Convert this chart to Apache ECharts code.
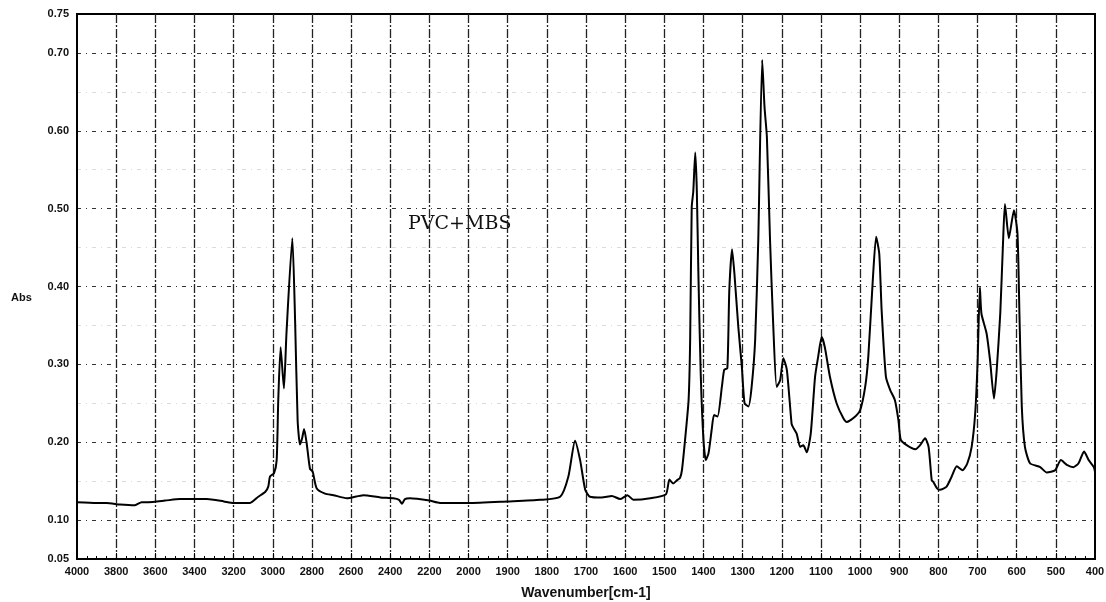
<!DOCTYPE html>
<html>
<head>
<meta charset="utf-8">
<script src="https://cdn.jsdelivr.net/npm/echarts@6/dist/echarts.min.js"></script>
<style>
  html, body { margin: 0; padding: 0; background: #fff; }
  #chart { width: 1106px; height: 602px; }
</style>
</head>
<body>
<div id="chart"></div>
<script>
// IR absorbance spectrum of PVC+MBS.
// The wavenumber scale is halved above 2000 cm-1 (200 per division there, 100 below).

const wavenumbers = [
  4000, 3900, 3849, 3780, 3704, 3670, 3636, 3550, 3474, 3337, 3250, 3201, 3116, 3074, 3039,
  3023, 3014, 2994, 2980, 2972, 2960, 2943, 2930, 2900, 2886, 2873, 2861, 2850, 2840, 2827,
  2810, 2796, 2776, 2733, 2690, 2622, 2537, 2450, 2384, 2355, 2340, 2325, 2299, 2200, 2146,
  2000, 1900, 1817, 1766, 1745, 1728, 1715, 1702, 1690, 1660, 1634, 1613, 1594, 1579, 1536,
  1496, 1487, 1477, 1468, 1460, 1455, 1447, 1438, 1434, 1430, 1426, 1421, 1417, 1413, 1407,
  1400, 1394, 1387, 1379, 1373, 1364, 1353, 1347, 1339, 1334, 1327, 1321, 1311, 1302, 1295,
  1285, 1277, 1268, 1260, 1250, 1244, 1238, 1230, 1222, 1213, 1204, 1196, 1187, 1175, 1172,
  1162, 1153, 1145, 1136, 1126, 1115, 1107, 1098, 1090, 1077, 1060, 1043, 1034, 1017, 1000,
  987, 979, 968, 959, 951, 945, 934, 923, 911, 902, 896, 880, 859, 847, 834,
  825, 817, 813, 804, 796, 779, 766, 753, 738, 726, 715, 706, 700, 694, 690,
  677, 668, 658, 651, 642, 635, 630, 620, 607, 598, 593, 587, 579, 566, 540,
  523, 502, 487, 472, 455, 442, 428, 416, 403, 400
];

const absorbance = [
  0.123, 0.122, 0.122, 0.120, 0.119, 0.123, 0.123, 0.125, 0.127, 0.127, 0.124, 0.122, 0.122, 0.130, 0.136,
  0.143, 0.156, 0.160, 0.177, 0.254, 0.322, 0.269, 0.340, 0.462, 0.357, 0.228, 0.197, 0.205, 0.217, 0.199,
  0.166, 0.162, 0.141, 0.134, 0.132, 0.128, 0.132, 0.129, 0.128, 0.126, 0.121, 0.127, 0.128, 0.125, 0.122,
  0.122, 0.124, 0.126, 0.130, 0.156, 0.202, 0.177, 0.139, 0.130, 0.129, 0.131, 0.127, 0.132, 0.126, 0.128,
  0.133, 0.152, 0.147, 0.151, 0.154, 0.164, 0.203, 0.254, 0.331, 0.502, 0.522, 0.572, 0.524, 0.417, 0.288,
  0.203, 0.177, 0.186, 0.216, 0.235, 0.233, 0.271, 0.293, 0.295, 0.395, 0.448, 0.417, 0.348, 0.297, 0.250,
  0.246, 0.271, 0.331, 0.460, 0.691, 0.630, 0.592, 0.460, 0.353, 0.271, 0.280, 0.308, 0.293, 0.224, 0.220,
  0.211, 0.194, 0.196, 0.187, 0.211, 0.284, 0.310, 0.335, 0.322, 0.284, 0.250, 0.231, 0.226, 0.231, 0.241,
  0.271, 0.310, 0.404, 0.464, 0.442, 0.370, 0.284, 0.267, 0.254, 0.228, 0.203, 0.196, 0.191, 0.196, 0.205,
  0.194, 0.151, 0.149, 0.141, 0.139, 0.143, 0.156, 0.169, 0.164, 0.173, 0.194, 0.237, 0.301, 0.399, 0.365,
  0.340, 0.305, 0.256, 0.293, 0.365, 0.455, 0.506, 0.462, 0.498, 0.468, 0.365, 0.246, 0.194, 0.173, 0.168,
  0.161, 0.164, 0.177, 0.171, 0.168, 0.173, 0.188, 0.177, 0.168, 0.162
];

// One label per axis division, left to right
const xTickLabels = [
  4000, 3800, 3600, 3400, 3200, 3000, 2800, 2600, 2400, 2200, 2000,
  1900, 1800, 1700, 1600, 1500, 1400, 1300, 1200, 1100, 1000, 900, 800, 700, 600, 500, 400
];

const yTickLabels = ['0.05', '0.10', '0.20', '0.30', '0.40', '0.50', '0.60', '0.70', '0.75'];

const titleText = 'PVC+MBS';

// Map a wavenumber to its division position on the horizontal axis
function toAxis(w) {
  return w >= 2000 ? (4000 - w) / 200 : 10 + (2000 - w) / 100;
}

const seriesData = wavenumbers.map((w, i) => [toAxis(w), absorbance[i]]);

const chart = echarts.init(document.getElementById('chart'), null, { renderer: 'canvas' });

const labelFont = {
  fontFamily: 'Liberation Sans, Arial, sans-serif',
  fontWeight: 'bold',
  fontSize: 11,
  color: '#111'
};

chart.setOption({
  animation: false,
  backgroundColor: '#fff',
  grid: {
    left: 77, right: 11, top: 14, bottom: 43,
    outerBoundsMode: 'none',
    containLabel: false,
    show: true,
    borderColor: '#000',
    borderWidth: 2,
    backgroundColor: 'transparent'
  },
  xAxis: {
    type: 'value',
    min: 0,
    max: xTickLabels.length - 1,
    interval: 1,
    name: 'Wavenumber[cm-1]',
    nameLocation: 'middle',
    nameGap: 27,
    nameTextStyle: {
      fontFamily: 'Liberation Sans, Arial, sans-serif',
      fontWeight: 'bold',
      fontSize: 14,
      color: '#111'
    },
    axisLine: { show: true, onZero: false, lineStyle: { color: '#000', width: 2 } },
    axisTick: { show: true, inside: true, length: 6, lineStyle: { color: '#000', width: 1 } },
    minorTick: { show: true, splitNumber: 4, length: 3, lineStyle: { color: '#000', width: 1 } },
    axisLabel: Object.assign({
      margin: 7,
      formatter: (v) => String(xTickLabels[Math.round(v)])
    }, labelFont),
    splitLine: {
      show: true,
      showMinLine: false,
      showMaxLine: false,
      lineStyle: { color: '#222', width: 1.3, type: [9, 2, 2, 2] }
    }
  },
  yAxis: {
    type: 'value',
    min: 0.05,
    max: 0.75,
    interval: 0.05,
    axisLine: { show: true, onZero: false, lineStyle: { color: '#000', width: 2 } },
    axisTick: { show: false },
    axisLabel: Object.assign({
      margin: 8,
      formatter: (v) => {
        const s = v.toFixed(2);
        return yTickLabels.indexOf(s) >= 0 ? s : '';
      }
    }, labelFont),
    splitLine: {
      show: true,
      showMinLine: false,
      showMaxLine: false,
      lineStyle: {
        // major lines at every 0.10, faint ones in between
        color: ['#333', 'rgba(0,0,0,0.14)'],
        width: 1.2,
        type: [4, 5, 1, 5]
      }
    }
  },
  graphic: [
    {
      type: 'text',
      left: 11,
      top: 292,
      style: {
        text: 'Abs',
        font: 'bold 11px "Liberation Sans", Arial, sans-serif',
        fill: '#111'
      }
    },
    {
      type: 'text',
      left: 408,
      top: 215,
      style: {
        text: titleText,
        font: '19px "DejaVu Serif", "Liberation Serif", serif',
        fill: '#111'
      }
    }
  ],
  series: [
    {
      type: 'line',
      data: seriesData,
      showSymbol: false,
      smooth: 0.2,
      lineStyle: { color: '#000', width: 2 },
      z: 5
    }
  ]
});
</script>
</body>
</html>
